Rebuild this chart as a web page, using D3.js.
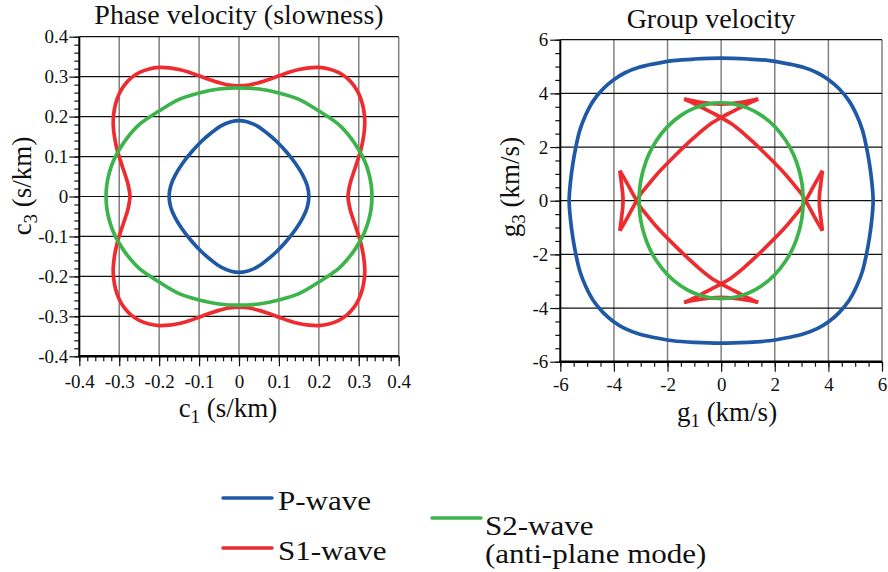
<!DOCTYPE html>
<html>
<head>
<meta charset="utf-8">
<script src="https://cdn.jsdelivr.net/npm/d3@7"></script>
<style>
  body { margin: 0; background: #fff; }
  svg { display: block; }
</style>
</head>
<body>
<div id="chart"></div>
<script>
// Curves for one quadrant only (c1 >= 0, c3 >= 0),
// running from the vertical axis to the horizontal one; the other three
// quadrants are the mirror images.

// slowness (s/km)
const slowP = [[0, 0.190], [0.02, 0.187], [0.045, 0.177], [0.07, 0.159], [0.095, 0.137],
  [0.12, 0.110], [0.142, 0.082], [0.160, 0.053], [0.171, 0.027], [0.175, 0]];
const slowS1 = [[0, 0.277], [0.025, 0.279], [0.05, 0.285], [0.075, 0.293], [0.1, 0.302],
  [0.125, 0.311], [0.15, 0.318], [0.175, 0.322], [0.2, 0.323], [0.225, 0.319], [0.25, 0.31],
  [0.27, 0.297], [0.287, 0.279], [0.3, 0.257], [0.309, 0.232], [0.314, 0.205], [0.315, 0.18],
  [0.312, 0.15], [0.306, 0.12], [0.297, 0.09], [0.287, 0.06], [0.279, 0.035], [0.275, 0.016], [0.273, 0]];
const slowS2 = [[0, 0.272], [0.05, 0.269], [0.1, 0.259], [0.15, 0.243], [0.2, 0.214],
  [0.25, 0.18], [0.28, 0.147], [0.3, 0.117], [0.315, 0.088], [0.325, 0.059], [0.331, 0.03], [0.333, 0]];

// group velocity (km/s)
const groupP = [[0, 5.31], [1, 5.28], [1.8, 5.22], [2.5, 5.1], [3.06, 4.97], [3.6, 4.76],
  [4.02, 4.5], [4.4, 4.17], [4.77, 3.72], [5.05, 3.2], [5.27, 2.63], [5.42, 2.0],
  [5.53, 1.39], [5.62, 0.7], [5.67, 0]];
const groupS2 = [[0, 3.65], [0.5, 3.6], [1, 3.45], [1.5, 3.18], [2, 2.76], [2.4, 2.26],
  [2.7, 1.72], [2.9, 1.16], [3.0, 0.72], [3.04, 0.42], [3.06, 0]];
// S1 has cusps, so its pieces are kept apart
const groupS1Arc1 = [[0, 3.6], [-0.35, 3.62], [-0.7, 3.66], [-1.05, 3.72], [-1.38, 3.79]];
const groupS1Branch = [[-1.38, 3.79], [-1.0, 3.62], [-0.65, 3.44], [-0.32, 3.27], [0, 3.1],
  [0.4, 2.86], [0.8, 2.54], [1.2, 2.18], [1.8, 1.6], [2.4, 0.98], [2.8, 0.5], [3.0, 0.25],
  [3.15, 0], [3.35, -0.36], [3.56, -0.74], [3.78, -1.12]];
const groupS1Arc2 = [[3.78, -1.12], [3.74, -0.82], [3.7, -0.5], [3.67, -0.24], [3.66, 0]];

const slowTicks = [-0.4, -0.3, -0.2, -0.1, 0, 0.1, 0.2, 0.3, 0.4];
const groupTicks = [-6, -4, -2, 0, 2, 4, 6];

const colors = { P: "#1f59a6", S1: "#ee2b2e", S2: "#3cb44b" };
const serif = '"Liberation Serif", "Times New Roman", "DejaVu Serif", serif';

const svg = d3.select("#chart").append("svg")
    .attr("width", 888)
    .attr("height", 572);

// whole loop from a quadrant
const mirrorLoop = q => [
    ...q,
    ...q.slice(0, -1).reverse().map(([a, b]) => [a, -b]),
    ...q.slice(1).map(([a, b]) => [-a, -b]),
    ...q.slice(1, -1).reverse().map(([a, b]) => [-a, b])
];
const flips = [[1, 1], [1, -1], [-1, -1], [-1, 1]];

function panel(o) {
    const x = d3.scaleLinear().domain(o.domain).range([o.left, o.right]);
    const y = d3.scaleLinear().domain(o.domain).range([o.bottom, o.top]);
    const g = svg.append("g");

    // grid: vertical lines grey, horizontal black
    g.selectAll(".vg").data(o.ticks.slice(1)).join("line")
        .attr("x1", d => x(d)).attr("x2", d => x(d))
        .attr("y1", o.top).attr("y2", o.bottom)
        .attr("stroke", "#808080").attr("stroke-width", 1.5);
    g.selectAll(".hg").data(o.ticks.slice(1)).join("line")
        .attr("y1", d => y(d)).attr("y2", d => y(d))
        .attr("x1", o.left).attr("x2", o.right)
        .attr("stroke", "#111").attr("stroke-width", 1.2);

    // ticks
    const fmt = d => String(d);
    const minorAxis = (axis, pos) => g.append("g")
        .attr("transform", pos)
        .call(axis.tickValues(o.minor).tickSize(5).tickFormat(""))
        .call(s => s.select(".domain").remove());
    minorAxis(d3.axisLeft(y), `translate(${o.left},0)`);
    minorAxis(d3.axisBottom(x), `translate(0,${o.bottom})`);

    const yAx = g.append("g")
        .attr("transform", `translate(${o.left},0)`)
        .call(d3.axisLeft(y).tickValues(o.ticks).tickSize(10).tickPadding(o.padY).tickFormat(fmt));
    const xAx = g.append("g")
        .attr("transform", `translate(0,${o.bottom})`)
        .call(d3.axisBottom(x).tickValues(o.ticks).tickSize(10).tickPadding(o.padX).tickFormat(fmt));
    [yAx, xAx].forEach(a => {
        a.select(".domain").remove();
        a.attr("font-family", serif).attr("font-size", 19);
        a.selectAll("text").attr("fill", "#111")
            .attr("font-family", serif).attr("font-size", 19);
    });
    g.selectAll(".tick line").attr("stroke", "#111").attr("stroke-width", 1.2);

    // axis lines
    g.append("line").attr("x1", o.left).attr("x2", o.left)
        .attr("y1", o.top).attr("y2", o.bottom + 1)
        .attr("stroke", "#000").attr("stroke-width", 2);
    g.append("line").attr("x1", o.left - 1).attr("x2", o.right)
        .attr("y1", o.bottom).attr("y2", o.bottom)
        .attr("stroke", "#000").attr("stroke-width", 2.5);

    // titles and labels
    g.append("text").attr("x", o.titleX).attr("y", o.titleY)
        .attr("text-anchor", "middle").attr("font-family", serif)
        .attr("font-size", 28).attr("fill", "#111")
        .text(o.title);
    const lab = (t, parts) => {
        t.attr("font-family", serif).attr("font-size", 27).attr("fill", "#111")
            .attr("text-anchor", "middle");
        t.append("tspan").text(parts[0]);
        t.append("tspan").attr("font-size", 19).attr("dy", 6).text(parts[1]);
        t.append("tspan").attr("dy", -6).text(parts[2]);
    };
    lab(g.append("text").attr("x", o.xLab[0]).attr("y", o.xLab[1]), o.xText);
    lab(g.append("text")
        .attr("transform", `translate(${o.yLab[0]},${o.yLab[1]}) rotate(-90)`), o.yText);

    const line = d3.line().x(d => x(d[0])).y(d => y(d[1]));
    return { g, x, y, line };
}

const left = panel({
    domain: [-0.4, 0.4], left: 79.3, right: 398.7, top: 36.7, bottom: 356.3,
    ticks: slowTicks, minor: d3.range(-40, 41, 2).map(d => d / 100),
    padY: 1, padX: 8,
    title: "Phase velocity (slowness)", titleX: 239, titleY: 24,
    xText: ["c", "1", " (s/km)"], xLab: [228, 417],
    yText: ["c", "3", " (s/km)"], yLab: [31, 186]
});

const right = panel({
    domain: [-6, 6], left: 560.3, right: 882, top: 39.7, bottom: 361.7,
    ticks: groupTicks, minor: d3.range(-12, 13, 1).map(d => d / 2),
    padY: 2, padX: 5.5,
    title: "Group velocity", titleX: 711, titleY: 28,
    xText: ["g", "1", " (km/s)"], xLab: [727, 421],
    yText: ["g", "3", " (km/s)"], yLab: [519, 187]
});

const W = 3.7;

// left panel curves
[[slowP, colors.P], [slowS1, colors.S1], [slowS2, colors.S2]].forEach(([q, c]) => {
    left.g.append("path")
        .attr("d", left.line.curve(d3.curveCatmullRomClosed)(mirrorLoop(q)))
        .attr("fill", "none").attr("stroke", c).attr("stroke-width", W);
});

// right panel curves
right.g.append("path")
    .attr("d", right.line.curve(d3.curveCatmullRomClosed)(mirrorLoop(groupP)))
    .attr("fill", "none").attr("stroke", colors.P).attr("stroke-width", W);
[groupS1Arc1, groupS1Branch, groupS1Arc2].forEach(seg => {
    flips.forEach(([fx, fy]) => {
        right.g.append("path")
            .attr("d", right.line.curve(d3.curveCatmullRom)(seg.map(([a, b]) => [a * fx, b * fy])))
            .attr("fill", "none").attr("stroke", colors.S1).attr("stroke-width", W);
    });
});
right.g.append("path")
    .attr("d", right.line.curve(d3.curveCatmullRomClosed)(mirrorLoop(groupS2)))
    .attr("fill", "none").attr("stroke", colors.S2).attr("stroke-width", W);

// legend
const legend = [
    { c: colors.P, x: 223, y: 498, tx: 278, ty: 510, lines: ["P-wave"] },
    { c: colors.S1, x: 223, y: 548, tx: 278, ty: 560, lines: ["S1-wave"] },
    { c: colors.S2, x: 432, y: 518, tx: 485, ty: 535, lines: ["S2-wave", "(anti-plane mode)"] }
];
const lg = svg.append("g");
legend.forEach(d => {
    lg.append("line").attr("x1", d.x).attr("x2", d.x + 49)
        .attr("y1", d.y).attr("y2", d.y)
        .attr("stroke", d.c).attr("stroke-width", 3.5).attr("stroke-linecap", "round");
    const t = lg.append("text")
        .attr("transform", `translate(${d.tx},${d.ty}) scale(1.15,1)`)
        .attr("font-family", serif).attr("font-size", 27).attr("fill", "#111");
    d.lines.forEach((s, i) => {
        t.append("tspan").attr("x", 0).attr("dy", i ? 28 : 0).text(s);
    });
});
</script>
</body>
</html>
